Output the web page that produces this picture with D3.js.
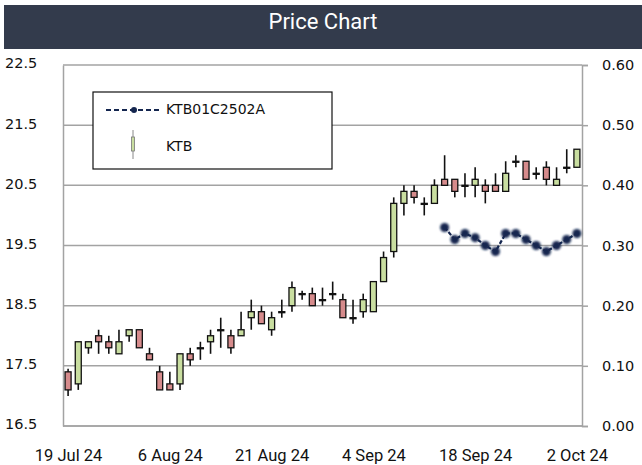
<!DOCTYPE html>
<html>
<head>
<meta charset="utf-8">
<script src="https://cdn.jsdelivr.net/npm/d3@7"></script>
<style>
  body { margin: 0; background: #fff; }
  svg { display: block; }
</style>
</head>
<body>
<svg id="chart" width="642" height="465"></svg>
<script>
// trading days shown on the x axis
var dates = ["2024-07-19","2024-07-23","2024-07-24","2024-07-25","2024-07-26","2024-07-30","2024-07-31",
    "2024-08-01","2024-08-02","2024-08-05","2024-08-06","2024-08-07","2024-08-08","2024-08-09","2024-08-13",
    "2024-08-14","2024-08-15","2024-08-16","2024-08-19","2024-08-20","2024-08-21","2024-08-22","2024-08-23",
    "2024-08-26","2024-08-27","2024-08-28","2024-08-29","2024-08-30","2024-09-02","2024-09-03","2024-09-04",
    "2024-09-05","2024-09-06","2024-09-09","2024-09-10","2024-09-11","2024-09-12","2024-09-13","2024-09-16",
    "2024-09-17","2024-09-18","2024-09-19","2024-09-20","2024-09-23","2024-09-24","2024-09-25","2024-09-26",
    "2024-09-27","2024-09-30","2024-10-01","2024-10-02"];

// KTB ohlc
var opens  = [17.4,17.2,17.8,18.0,17.9,17.7,18.0,18.1,17.7,17.4,17.2,17.2,17.7,17.8,17.9,18.1,18.0,18.0,18.3,18.4,18.1,
    18.4,18.5,18.7,18.7,18.6,18.7,18.6,18.3,18.4,18.4,18.9,19.4,20.2,20.4,20.2,20.2,20.6,20.6,20.5,20.5,20.5,20.5,
    20.4,20.9,20.9,20.7,20.8,20.5,20.8,20.8];
var highs  = [17.45,17.9,17.9,18.1,18.0,18.1,18.1,18.1,17.8,17.5,17.4,17.7,17.8,17.9,18.1,18.3,18.1,18.4,18.6,18.5,18.4,
    18.6,18.9,18.75,18.8,18.8,18.9,18.7,18.6,18.7,18.9,19.4,20.3,20.5,20.5,20.3,20.6,21.0,20.6,20.7,20.8,20.6,20.7,
    20.9,21.0,20.9,20.8,20.9,20.8,21.1,21.1];
var lows   = [17.0,17.1,17.7,17.7,17.7,17.7,17.9,17.8,17.6,17.1,17.1,17.1,17.5,17.6,17.7,17.8,17.7,18.0,18.1,18.2,18.0,
    18.3,18.4,18.6,18.5,18.5,18.6,18.3,18.2,18.3,18.4,18.9,19.3,20.0,20.2,20.0,20.2,20.5,20.3,20.3,20.3,20.2,20.4,
    20.4,20.8,20.6,20.6,20.5,20.5,20.7,20.8];
var closes = [17.1,17.9,17.9,17.9,17.8,17.9,18.1,17.8,17.6,17.1,17.1,17.7,17.6,17.8,18.0,18.1,17.8,18.1,18.4,18.2,18.3,
    18.4,18.8,18.7,18.5,18.6,18.7,18.3,18.3,18.6,18.9,19.3,20.2,20.4,20.3,20.2,20.5,20.5,20.4,20.5,20.6,20.4,20.4,
    20.7,20.9,20.6,20.7,20.6,20.6,20.8,21.1];

// KTB01C2502A, listed from 13 Sep
var warrantStart = "2024-09-13";
var warrant = [0.33,0.31,0.32,0.313,0.30,0.29,0.32,0.32,0.31,0.30,0.29,0.30,0.31,0.32];

var priceTicks = [16.5,17.5,18.5,19.5,20.5,21.5,22.5];
var warrantTicks = [0,0.1,0.2,0.3,0.4,0.5,0.6];
var dateTicks = ["2024-07-19","2024-08-06","2024-08-21","2024-09-04","2024-09-18","2024-10-02"];

var svg = d3.select("#chart");
var mLeft = 63, mRight = 582, mTop = 65, mBottom = 426;
var gridColor = "#a3a3a3";
var navy = "#14264f";

var parse = d3.timeParse("%Y-%m-%d");
var fmtDate = d3.timeFormat("%-d %b %y");

var data = dates.map(function (d, i) {
    return {date: d, o: opens[i], h: highs[i], l: lows[i], c: closes[i]};
});
var s0 = dates.indexOf(warrantStart);
var wData = warrant.map(function (v, i) {
    return {date: dates[s0 + i], v: v};
});

var xScale = d3.scalePoint().domain(dates).range([mLeft, mRight]).padding(0.5);
var yScale = d3.scaleLinear().domain([16.5, 22.5]).range([mBottom, mTop]);
var y2Scale = d3.scaleLinear().domain([0, 0.6]).range([mBottom, mTop]);

// title bar
svg.append("rect").attr("x", 4).attr("y", 5).attr("width", 638).attr("height", 44).attr("fill", "#333b4c");
svg.append("text").attr("x", 323).attr("y", 23)
    .attr("text-anchor", "middle").attr("dominant-baseline", "middle")
    .attr("font-family", "Roboto").attr("font-size", 22)
    .attr("fill", "#fff").text("Price Chart");

// gridlines
svg.append("g").selectAll("line").data(priceTicks).enter().append("line")
    .attr("x1", mLeft).attr("x2", mRight)
    .attr("y1", function (d) { return yScale(d); })
    .attr("y2", function (d) { return yScale(d); })
    .attr("stroke", gridColor).attr("stroke-width", 1.5);

// left axis
var yAxis = svg.append("g").attr("transform", "translate(" + mLeft + ",0)")
    .call(d3.axisLeft(yScale).tickValues(priceTicks).tickSize(0).tickPadding(0).tickFormat(d3.format(".1f")));
yAxis.select(".domain").attr("stroke", gridColor).attr("stroke-width", 1.5);
yAxis.selectAll("text").attr("x", -58).attr("dy", "0.2em").attr("text-anchor", "start")
    .attr("font-family", "DejaVu Sans").attr("font-size", 14.5).attr("fill", "#111");

// right axis
var y2Axis = svg.append("g").attr("transform", "translate(" + mRight + ",0)")
    .call(d3.axisRight(y2Scale).tickValues(warrantTicks).tickSize(6).tickPadding(14).tickFormat(d3.format(".2f")));
y2Axis.select(".domain").attr("stroke", gridColor).attr("stroke-width", 1.5);
y2Axis.selectAll("line").attr("stroke", gridColor).attr("stroke-width", 1.5);
y2Axis.selectAll("text").attr("font-family", "DejaVu Sans").attr("font-size", 14.5).attr("fill", "#111");

// bottom axis
var xAxis = svg.append("g").attr("transform", "translate(0," + mBottom + ")")
    .call(d3.axisBottom(xScale).tickValues(dateTicks).tickSize(0).tickPadding(23)
        .tickFormat(function (d) { return fmtDate(parse(d)); }));
xAxis.select(".domain").attr("stroke", gridColor).attr("stroke-width", 1.5).attr("d", "M" + mLeft + ",0H" + mRight);
xAxis.selectAll("text").attr("font-family", "Roboto").attr("font-size", 16.5).attr("fill", "#111");

// candles
var bw = 6;
var candles = svg.append("g").selectAll("g").data(data).enter().append("g");
candles.append("line")
    .attr("x1", function (d) { return xScale(d.date); })
    .attr("x2", function (d) { return xScale(d.date); })
    .attr("y1", function (d) { return yScale(d.h); })
    .attr("y2", function (d) { return yScale(d.l); })
    .attr("stroke", "#111").attr("stroke-width", 1.6);
candles.append("rect")
    .attr("x", function (d) { return xScale(d.date) - bw / 2; })
    .attr("y", function (d) { return yScale(Math.max(d.o, d.c)); })
    .attr("width", bw)
    .attr("height", function (d) { return Math.max(1, Math.abs(yScale(d.o) - yScale(d.c))); })
    .attr("fill", function (d) { return d.c > d.o ? "#c9dea0" : (d.c < d.o ? "#d68b8c" : "#111"); })
    .attr("stroke", "#111").attr("stroke-width", 1.3);

// warrant series, dashed with soft dots
var defs = svg.append("defs");
defs.append("filter").attr("id", "soft").attr("x", "-50%").attr("y", "-50%").attr("width", "200%").attr("height", "200%")
    .append("feGaussianBlur").attr("stdDeviation", 0.9);

var wLine = d3.line()
    .x(function (d) { return xScale(d.date); })
    .y(function (d) { return y2Scale(d.v); });
svg.append("path").datum(wData).attr("d", wLine)
    .attr("fill", "none").attr("stroke", navy).attr("stroke-width", 2.2).attr("stroke-dasharray", "4,2");
svg.append("g").attr("filter", "url(#soft)").selectAll("circle").data(wData).enter().append("circle")
    .attr("cx", function (d) { return xScale(d.date); })
    .attr("cy", function (d) { return y2Scale(d.v); })
    .attr("r", 4.5).attr("fill", navy);

// legend
var lg = svg.append("g");
lg.append("rect").attr("x", 93).attr("y", 92).attr("width", 239).attr("height", 77)
    .attr("fill", "#fff").attr("stroke", "#111").attr("stroke-width", 1.2);
lg.append("line").attr("x1", 106).attr("x2", 159).attr("y1", 110).attr("y2", 110)
    .attr("stroke", navy).attr("stroke-width", 2.2).attr("stroke-dasharray", "5,3");
lg.append("circle").attr("cx", 134).attr("cy", 110).attr("r", 3).attr("fill", navy);
lg.append("text").attr("x", 166).attr("y", 110).attr("dominant-baseline", "middle")
    .attr("font-family", "DejaVu Sans").attr("font-size", 14).attr("fill", "#111").text("KTB01C2502A");
lg.append("line").attr("x1", 133).attr("x2", 133).attr("y1", 130).attr("y2", 159)
    .attr("stroke", "#888").attr("stroke-width", 1);
lg.append("rect").attr("x", 131.5).attr("y", 137).attr("width", 3).attr("height", 14)
    .attr("fill", "#c9dea0").attr("stroke", "#777").attr("stroke-width", 0.8);
lg.append("text").attr("x", 166).attr("y", 147).attr("dominant-baseline", "middle")
    .attr("font-family", "DejaVu Sans").attr("font-size", 14).attr("fill", "#111").text("KTB");
</script>
</body>
</html>
